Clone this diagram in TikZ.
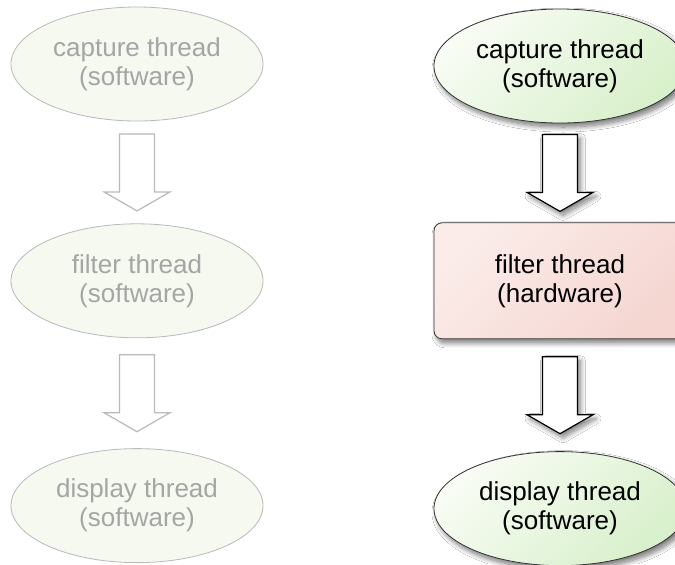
\documentclass[tikz,border=0pt]{standalone}
\usepackage{fontspec}
\setmainfont{Liberation Sans}
\usetikzlibrary{shapes.geometric, positioning, calc, shadows.blur}

\definecolor{fadefill}{RGB}{245,249,240}
\definecolor{fadeline}{RGB}{185,185,185}
\definecolor{fadetext}{RGB}{165,165,165}
\definecolor{swlight}{RGB}{248,252,244}
\definecolor{swdark}{RGB}{216,240,203}
\definecolor{hwlight}{RGB}{251,236,233}
\definecolor{hwdark}{RGB}{245,214,209}

\tikzset{flow/.style = { to path = { let \p1 = (\tikztostart), \p2 = (\tikztotarget), \p3 = ($(\p1)!.5!(\p2)$) in
  (\x1-8.75pt,\y3+19.25pt) -- (\x1+8.75pt,\y3+19.25pt) -- (\x1+8.75pt,\y3-9.75pt) -- (\x1+16.5pt,\y3-9.75pt)
  -- (\x1,\y3-19.25pt) -- (\x1-16.5pt,\y3-9.75pt) -- (\x1-8.75pt,\y3-9.75pt) -- cycle } }}

\begin{document}
\begin{tikzpicture}[x = 0.5pt, y = -0.5pt, thread/.style = { ellipse, minimum width = 126pt, minimum height = 57pt, inner sep = 0pt, align = center, font = \fontsize{13}{14.5}\selectfont }, faded/.style = { thread, draw = fadeline, line width = 0.4pt, fill = fadefill, text = fadetext }, software/.style = { thread, draw = black!80, top color = swlight, bottom color = swdark, shading angle = 45, text = black, blur shadow={shadow xshift=1.5pt,shadow yshift=-2pt,shadow blur radius=2.5pt,shadow blur steps=12,shadow opacity=55} }, hardware/.style = { rectangle, rounded corners = 4pt, minimum width = 126pt, minimum height = 58pt, inner sep = 0pt, align = center, font = \fontsize{13}{14.5}\selectfont, draw = black!80, top color = hwlight, bottom color = hwdark, shading angle = 45, text = black, blur shadow={shadow xshift=1.5pt,shadow yshift=-2pt,shadow blur radius=2.5pt,shadow blur steps=12,shadow opacity=55} }, fadedflow/.style = { flow, draw = fadeline, fill = white, line width = 0.6pt }, activeflow/.style = { flow, draw = black, fill = white, line width = 0.6pt, blur shadow={shadow xshift=1.5pt,shadow yshift=-2pt,shadow blur radius=2.5pt,shadow blur steps=12,shadow opacity=50} }]
	\path [use as bounding box, clip] (0,0) rectangle (675,564);
	\fill [white] (0,0) rectangle (675,564);

	% all in software
	\node [faded] (capL) at (137,64) {capture thread\\(software)};
	\node [faded, below = 51pt of capL] (filL) {filter thread\\(software)};
	\node [faded, below = 55pt of filL] (disL) {display thread\\(software)};

	% filter moved to hardware
	\node [software] (capR) at (560,66) {capture thread\\(software)};
	\node [hardware, below = 49.5pt of capR] (filR) {filter thread\\(hardware)};
	\node [software, below = 56pt of filR] (disR) {display thread\\(software)};

	\draw [fadedflow] (capL.south) to (filL.north);
	\draw [fadedflow] (filL.south) to (disL.north);

	\draw [activeflow] (capR.south) to (filR.north);
	\draw [activeflow] (filR.south) to (disR.north);
\end{tikzpicture}
\end{document}
